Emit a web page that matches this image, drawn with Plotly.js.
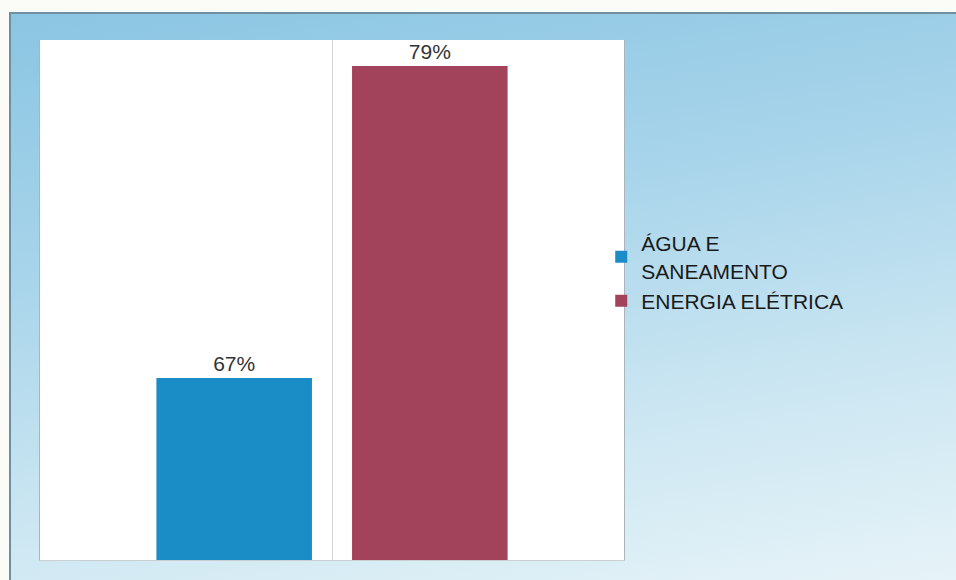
<!DOCTYPE html>
<html>
<head>
<meta charset="utf-8">
<script src="https://cdn.plot.ly/plotly-3.0.1.min.js"></script>
<style>
  html, body { margin: 0; padding: 0; background: #fbfbf8; }
  #frame {
    position: absolute; left: 9px; top: 12px; width: 960px; height: 580px;
    border-top: 2px solid #6f8f9f; border-left: 2px solid #6f8f9f;
    background: linear-gradient(170deg, #8ac5e2 0%, #a7d4ea 35%, #cde7f2 70%, #e8f4f8 100%);
  }
  #chart { position: absolute; left: 0; top: 0; width: 956px; height: 580px; }
</style>
</head>
<body>
<div id="frame"></div>
<div id="chart"></div>
<script>
const groupLabel = ['Serviços'];
const seriesNames = ['ÁGUA E<br>SANEAMENTO', 'ENERGIA ELÉTRICA'];
const seriesValues = [67, 79];
const seriesColors = ['#1a8cc6', '#a2435b'];

const traces = seriesNames.map((name, i) => ({
  type: 'bar',
  name: name,
  x: groupLabel,
  y: [seriesValues[i]],
  marker: { color: seriesColors[i] },
  texttemplate: '%{y}%',
  textposition: 'outside',
  textfont: { family: 'Liberation Sans, Arial, sans-serif', size: 21, color: '#333333' },
  cliponaxis: false,
  hoverinfo: 'skip'
}));

const layout = {
  width: 956, height: 580,
  margin: { l: 40, r: 332, t: 40, b: 20, pad: 0 },
  paper_bgcolor: 'rgba(0,0,0,0)',
  plot_bgcolor: '#ffffff',
  barmode: 'group',
  bargap: 0.33,
  bargroupgap: 0.205,
  showlegend: true,
  legend: {
    x: 0.961, xanchor: 'left', y: 0.554, yanchor: 'middle',
    bgcolor: 'rgba(0,0,0,0)',
    font: { family: 'Liberation Sans, Arial, sans-serif', size: 21, color: '#1a1a1a' },
    tracegroupgap: 2
  },
  xaxis: {
    showticklabels: false, ticks: '', showgrid: true, gridcolor: '#d6d6d6', gridwidth: 1,
    showline: true, linecolor: '#c8ced2', linewidth: 1, mirror: false, zeroline: false
  },
  yaxis: {
    range: [60, 80], showticklabels: false, ticks: '', showgrid: false, zeroline: false,
    showline: true, linecolor: '#aab4ba', linewidth: 1, mirror: true
  }
};

Plotly.newPlot('chart', traces, layout, { displayModeBar: false, staticPlot: true });
</script>
</body>
</html>
